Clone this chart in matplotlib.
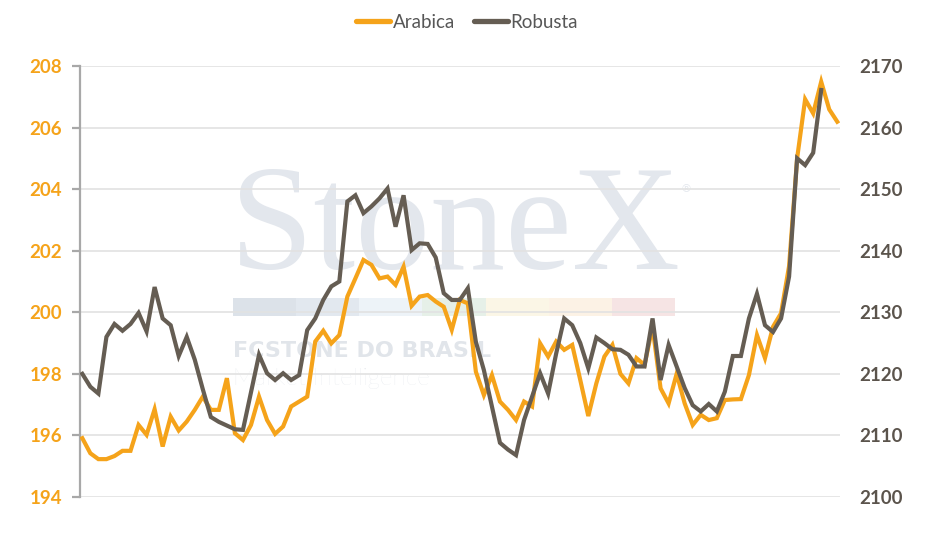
import matplotlib
matplotlib.use("Agg")
import matplotlib.pyplot as plt
import numpy as np
from matplotlib.patches import Rectangle
from matplotlib.lines import Line2D

# ---------------- data ----------------
series_names = ["Arabica", "Robusta"]

arabica = [
    195.91, 195.42, 195.23, 195.23, 195.33, 195.50, 195.50, 196.34, 196.02, 196.85,
    195.64, 196.61, 196.16, 196.45, 196.83, 197.26, 196.83, 196.83, 197.86, 196.07,
    195.85, 196.34, 197.26, 196.50, 196.05, 196.29, 196.94, 197.10, 197.26, 199.05,
    199.40, 198.99, 199.26, 200.51, 201.10, 201.70, 201.54, 201.10, 201.16, 200.89,
    201.48, 200.21, 200.51, 200.56, 200.35, 200.18, 199.43, 200.40, 200.29, 198.07,
    197.31, 197.96, 197.10, 196.83, 196.50, 197.10, 196.94, 198.99, 198.56, 199.05,
    198.78, 198.94, 197.80, 196.63, 197.69, 198.56, 198.94, 198.00, 197.69, 198.51,
    198.29, 199.53, 197.53, 197.04, 198.00, 197.04, 196.34, 196.67, 196.50, 196.56,
    197.15, 197.17, 197.18, 197.96, 199.26, 198.51, 199.53, 199.97, 201.50, 205.00,
    206.92, 206.46, 207.49, 206.59, 206.19,
]

robusta = [
    2120.0, 2117.9, 2116.8, 2126.0, 2128.1, 2127.0, 2128.1, 2129.9, 2126.9, 2134.1,
    2129.0, 2127.9, 2122.9, 2126.0, 2122.3, 2117.5, 2113.0, 2112.2, 2111.6, 2111.0,
    2110.9, 2117.0, 2123.1, 2120.1, 2119.0, 2120.1, 2119.0, 2119.8, 2127.1, 2129.0,
    2132.0, 2134.2, 2135.0, 2148.0, 2149.0, 2146.1, 2147.2, 2148.5, 2150.1, 2143.9,
    2149.0, 2140.1, 2141.2, 2141.1, 2138.9, 2133.1, 2132.0, 2132.0, 2133.9, 2125.2,
    2120.6, 2114.7, 2108.8, 2107.7, 2106.8, 2112.5, 2116.3, 2120.1, 2116.8, 2123.3,
    2129.0, 2127.9, 2125.0, 2120.9, 2125.9, 2125.0, 2124.0, 2123.9, 2123.1, 2121.2,
    2121.2, 2129.0, 2119.0, 2124.7, 2121.2, 2117.7, 2114.9, 2113.9, 2115.1, 2113.9,
    2117.1, 2122.9, 2122.9, 2129.0, 2133.0, 2127.9, 2126.8, 2129.0, 2135.8, 2155.0,
    2153.9, 2155.9, 2166.1,
]

left_ticks = [194, 196, 198, 200, 202, 204, 206, 208]
right_ticks = [2100, 2110, 2120, 2130, 2140, 2150, 2160, 2170]

# ---------------- style ----------------
ORANGE = "#F5A31A"
DARK = "#655D53"
GRID = "#E2E2E2"
SPINE = "#A8A8A8"

W, H = 930, 539
fig = plt.figure(figsize=(W / 100, H / 100), dpi=100)
fig.patch.set_facecolor("white")

ax = fig.add_axes([80 / W, 1 - 497 / H, 760 / W, 431 / H])
ax.patch.set_visible(False)
ax2 = ax.twinx()

x_a = np.arange(len(arabica))
x_r = np.arange(len(robusta))

ax.plot(x_a, arabica, color=ORANGE, lw=3.0, solid_joinstyle="miter", zorder=3)
ax2.plot(x_r, robusta, color=DARK, lw=3.0, solid_joinstyle="miter", zorder=3)

ax.set_xlim(-0.29, len(arabica) - 1 + 0.34)
ax.set_ylim(left_ticks[0], left_ticks[-1])
ax2.set_ylim(right_ticks[0], right_ticks[-1])

ax.set_yticks(left_ticks)
ax2.set_yticks(right_ticks)
ax.set_xticks([])

ax.yaxis.grid(True, color=GRID, lw=1.2)
ax.set_axisbelow(True)

for s in ["top", "right", "bottom"]:
    ax.spines[s].set_visible(False)
for s in ["top", "right", "bottom", "left"]:
    ax2.spines[s].set_visible(False)
ax.spines["left"].set_color(SPINE)
ax.spines["left"].set_linewidth(1.6)

ax.tick_params(axis="y", length=6, width=1.6, color=SPINE, pad=7,
               labelcolor=ORANGE, labelsize=13.5)
ax2.tick_params(axis="y", length=0, pad=14, labelcolor="#5B544C", labelsize=13.5)
for lab in ax.get_yticklabels():
    lab.set_fontfamily("Lato")
    lab.set_fontweight("bold")
for lab in ax2.get_yticklabels():
    lab.set_fontfamily("Lato")
    lab.set_fontweight("bold")

# ---------------- watermark ----------------
wm = "#E3E7ED"
fig.text(230 / W, 1 - 269 / H, "StoneX", family="Liberation Serif", fontsize=108,
         color=wm, ha="left", va="baseline", zorder=-2)
fig.text(680 / W, 1 - 192 / H, "\u00ae", family="DejaVu Sans", fontsize=8,
         color=wm, ha="left", va="baseline", zorder=-2)
bar_colors = ["#DCE2E9", "#E2E8EF", "#EDF3F8", "#E6F0E8", "#FBF6E6", "#FCF2E5", "#F6E4E4"]
bx0, bx1 = 233, 675
seg = (bx1 - bx0) / len(bar_colors)
for k, c in enumerate(bar_colors):
    fig.add_artist(Rectangle(((bx0 + k * seg) / W, 1 - 316 / H), seg / W, 18 / H,
                             transform=fig.transFigure, color=c, lw=0, zorder=-2))
fig.text(233 / W, 1 - 357 / H, "FCSTONE DO BRASIL", family="DejaVu Sans", fontweight="bold",
         fontsize=16, color="#E1E5EA", ha="left", va="baseline", zorder=-2)
fig.text(233 / W, 1 - 385 / H, "Market Intelligence", family="Lato", fontweight="light",
         fontsize=17.5, color="#E2E6EB", ha="left", va="baseline", zorder=-2)

# ---------------- legend ----------------
handles = [Line2D([0], [0], color=ORANGE, lw=3.8, solid_capstyle="round"),
           Line2D([0], [0], color=DARK, lw=3.8, solid_capstyle="round")]
leg = fig.legend(handles, series_names, loc="center", bbox_to_anchor=(467 / W, 1 - 22 / H),
                 ncol=2, frameon=False, handlelength=1.8, handletextpad=0.15,
                 columnspacing=1.0, prop={"family": "Lato", "size": 13.5})
for t in leg.get_texts():
    t.set_color("#575757")

fig.savefig("out.png", dpi=100, facecolor="white")
